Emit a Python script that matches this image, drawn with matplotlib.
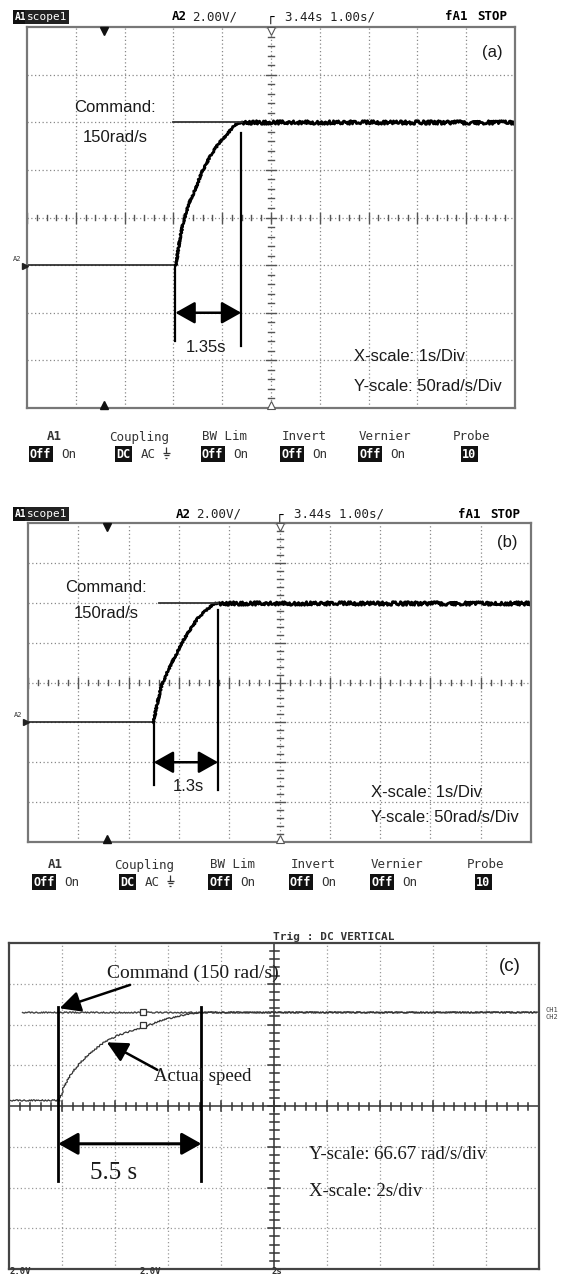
import numpy as np
import matplotlib
matplotlib.use("Agg")
import matplotlib.pyplot as plt
from matplotlib import font_manager

W, H = 567, 1277

# (a) speed step, 1 s/div, 50 rad/s/div
a_time = [0, 3.05, 3.13, 3.20, 3.30, 3.44, 3.58, 3.75, 3.92, 4.09, 4.26, 4.40, 10]
a_speed = [0, 0, 27, 44, 62, 79, 97, 114, 127, 137, 147, 150, 150]
a_cmd_time = [3.0, 4.40]
a_marks = [3.04, 4.39]

# (b)
b_time = [0, 2.49, 2.57, 2.65, 2.79, 2.92, 3.05, 3.22, 3.38, 3.55, 3.71, 3.80, 10]
b_speed = [0, 0, 24, 45, 66, 82, 99, 116, 131, 141, 149, 150, 150]
b_cmd_time = [2.60, 3.78]
b_marks = [2.50, 3.78]

# (c) 2 s/div
c_time = [0.05, 1.92, 1.92, 1.99, 2.05, 2.18, 2.37, 2.68, 3.06, 3.56, 4.06,
          4.69, 5.20, 5.70, 6.33, 6.83, 7.21, 19.9]
c_speed = [0, 0, 6, 10, 21, 32, 47, 64, 81, 98, 110, 120, 127, 136, 143, 148, 150, 150]
c_cmd_time = [0.48, 20]
c_marks = [1.86, 7.26]

command = 150

menu_labels = ["A1", "Coupling", "BW Lim", "Invert", "Vernier", "Probe"]
menu_on = ["Off", "DC", "Off", "Off", "Off", "10"]
menu_off = ["On", "AC", "On", "On", "On", ""]

names = {f.name for f in font_manager.fontManager.ttflist}
narrow = "Liberation Sans Narrow" in names
SANS = "Liberation Sans Narrow" if narrow else "Liberation Sans"
FS = 14.5 if narrow else 12
SERIF = "Liberation Serif"
MONO = ["DejaVu Sans Mono", "DejaVu Sans"]

fig = plt.figure(figsize=(W / 100, H / 100), dpi=100)


def box(l, t, r, b):
    return [l / W, 1 - b / H, (r - l) / W, (b - t) / H]


def scope(ax, px, hp=True):
    l, t, r, b = px
    wpx, hpx = r - l, b - t
    ax.set_xticks([])
    ax.set_yticks([])
    for s in ax.spines.values():
        s.set_color("#777" if hp else "#444")
        s.set_linewidth(1.6)
    gkw = dict(transform=ax.transAxes, color="#888" if hp else "#999",
               lw=0.9, ls=(0, (1, 2)), zorder=1)
    for i in range(1, 10):
        if i != 5:
            ax.plot([i / 10] * 2, [0, 1], **gkw)
    for j in range(1, 8):
        if j != 4:
            ax.plot([0, 1], [j / 8] * 2, **gkw)
    ckw = dict(transform=ax.transAxes, zorder=1)
    if hp:
        ax.plot([0.5, 0.5], [0, 1], color="#888", lw=0.9, ls=(0, (1, 2)), **ckw)
        ax.plot([0, 1], [0.5, 0.5], color="#888", lw=0.9, ls=(0, (1, 2)), **ckw)
        col, lw = "#555", 1.0
    else:
        ax.plot([0.5, 0.5], [0, 1], color="#333", lw=1.1, **ckw)
        ax.plot([0, 1], [0.5, 0.5], color="#333", lw=1.1, **ckw)
        col, lw = "#333", 1.1
    for k in range(51):
        L = (5 if k % 5 == 0 else 2.5) if hp else (5 if k % 5 == 0 else 3.5)
        x = k / 50
        ax.plot([x, x], [0.5 - L / hpx, 0.5 + L / hpx], color=col, lw=lw, **ckw)
    for k in range(41):
        L = (5 if k % 5 == 0 else 3) if hp else (6 if k % 5 == 0 else 4.5)
        y = k / 40
        ax.plot([0.5 - L / wpx, 0.5 + L / wpx], [y, y], color=col, lw=lw, **ckw)


def noisy(line, scale, length=1.5):
    line.set_sketch_params(scale=scale, length=length, randomness=3)


arrow2 = dict(arrowstyle="<|-|>,head_length=0.8,head_width=0.45",
              mutation_scale=15, lw=1.8, color="k", shrinkA=0, shrinkB=0)

# ---------------- (a)
pa = (27, 27, 515, 408)
ax = fig.add_axes(box(*pa))
ax.set_xlim(0, 10)
ax.set_ylim(-150, 250)
scope(ax, pa)
ax.plot(a_time[:2], a_speed[:2], color="#222", lw=1.2)
ln, = ax.plot(a_time[1:-1], a_speed[1:-1], color="k", lw=2.0)
noisy(ln, 0.8)
ln, = ax.plot(a_time[-2:], a_speed[-2:], color="k", lw=2.0)
noisy(ln, 1.8)
ax.plot(a_cmd_time, [command] * 2, color="#333", lw=1.3)
ax.plot([a_marks[0]] * 2, [0, -80], color="k", lw=1.6)
ax.plot([a_marks[1]] * 2, [139, -85], color="k", lw=1.6)
ax.annotate("", xy=(a_marks[1], -50), xytext=(a_marks[0], -50), arrowprops=arrow2)
tkw = dict(family=SANS, fontsize=FS, color="#1a1a1a", va="center")
ax.text(0.96, 166, "Command:", **tkw)
ax.text(1.15, 134, "150rad/s", **tkw)
ax.text(np.mean(a_marks) - 0.05, -87, "1.35s", ha="center", **tkw)
ax.text(9.53, 223, "(a)", ha="center", **tkw)
ax.text(6.70, -96, "X-scale: 1s/Div", **tkw)
ax.text(6.70, -127, "Y-scale: 50rad/s/Div", **tkw)

# ---------------- (b)
pb = (28, 523, 531, 842)
ax = fig.add_axes(box(*pb))
ax.set_xlim(0, 10)
ax.set_ylim(-150, 250)
scope(ax, pb)
ax.plot(b_time[:2], b_speed[:2], color="#222", lw=1.2)
ln, = ax.plot(b_time[1:-1], b_speed[1:-1], color="k", lw=2.0)
noisy(ln, 0.8)
ln, = ax.plot(b_time[-2:], b_speed[-2:], color="k", lw=2.0)
noisy(ln, 1.8)
ax.plot(b_cmd_time, [command] * 2, color="#333", lw=1.3)
ax.plot([b_marks[0]] * 2, [0, -79], color="k", lw=1.6)
ax.plot([b_marks[1]] * 2, [141, -85], color="k", lw=1.6)
ax.annotate("", xy=(b_marks[1], -50), xytext=(b_marks[0], -50), arrowprops=arrow2)
ax.text(0.73, 169, "Command:", **tkw)
ax.text(0.91, 136, "150rad/s", **tkw)
ax.text(3.19, -81, "1.3s", ha="center", **tkw)
ax.text(9.52, 225, "(b)", ha="center", **tkw)
ax.text(6.82, -88, "X-scale: 1s/Div", **tkw)
ax.text(6.82, -119, "Y-scale: 50rad/s/Div", **tkw)

# ---------------- (c)
pc = (9, 943, 539, 1269)
ax = fig.add_axes(box(*pc))
ax.set_xlim(0, 20)
ax.set_ylim(-287.5, 268.4)
scope(ax, pc, hp=False)
ln, = ax.plot(c_cmd_time, [command] * 2, color="#444", lw=1.0)
noisy(ln, 0.6, 3)
ln, = ax.plot(c_time, c_speed, color="#333", lw=0.9)
noisy(ln, 0.7, 3)
ax.plot([c_marks[0]] * 2, [160, -138], color="k", lw=2.0)
ax.plot([c_marks[1]] * 2, [160, -138], color="k", lw=2.0)
ax.annotate("", xy=(c_marks[1], -74), xytext=(c_marks[0], -74),
            arrowprops=dict(arrow2, lw=2.2))
ax.plot([5.07, 5.07], [150, 128], ls="none", marker="s", ms=5, mfc="white",
        mec="#333", mew=0.9)
skw = dict(family=SERIF, color="#1a1a1a", va="center")
ax.text(3.69, 217, "Command (150 rad/s)", fontsize=14, **skw)
ax.annotate("", xy=(1.91, 157), xytext=(4.57, 197),
            arrowprops=dict(arrowstyle="-|>,head_length=0.9,head_width=0.45",
                            mutation_scale=14, lw=1.8, color="k", shrinkA=0, shrinkB=0))
ax.text(5.46, 41, "Actual speed", fontsize=13.5, **skw)
ax.annotate("", xy=(3.69, 99), xytext=(5.60, 52),
            arrowprops=dict(arrowstyle="-|>,head_length=0.9,head_width=0.45",
                            mutation_scale=14, lw=1.8, color="k", shrinkA=0, shrinkB=0))
ax.text(np.mean(c_marks) - 0.6, -124, "5.5 s", fontsize=18, ha="center", **skw)
ax.text(11.32, -93, "Y-scale: 66.67 rad/s/div", fontsize=13.5, **skw)
ax.text(11.32, -155, "X-scale: 2s/div", fontsize=13.5, **skw)
ax.text(18.9, 228, "(c)", family="Liberation Sans", fontsize=13.5, ha="center",
        va="center", color="#1a1a1a")

# ---------------- scope headers and menus (pixel coordinates)
ov = fig.add_axes([0, 0, 1, 1])
ov.set_xlim(0, W)
ov.set_ylim(H, 0)
ov.axis("off")
ov.patch.set_alpha(0)

inv = dict(facecolor="#111", edgecolor="none", pad=1.2)


def header(y, xs):
    ov.text(xs[0], y, "A1", family=MONO, fontsize=7, weight="bold", color="white",
            va="center", bbox=inv)
    ov.text(xs[0] + 12, y, "scope1", family=MONO, fontsize=8, color="white",
            va="center", bbox=dict(inv, facecolor="#222"))
    ov.text(xs[1], y, "A2", family=MONO, fontsize=9, weight="bold", va="center")
    ov.text(xs[1] + 20, y, "2.00V/", family=MONO, fontsize=9, va="center", color="#222")
    ov.text(xs[2] - 4, y + 1, "\u250C", family=MONO, fontsize=9, va="center")
    ov.text(xs[2] + 14, y, "3.44s 1.00s/", family=MONO, fontsize=9, va="center",
            color="#222")
    ov.text(xs[3], y, "fA1", family=MONO, fontsize=9, weight="bold", va="center")
    ov.text(xs[3] + 32, y, "STOP", family=MONO, fontsize=9, weight="bold", va="center")


header(17, (15, 172, 271, 445))
header(514, (15, 176, 280, 458))


def ground(x, y):
    # earth symbol (no installed font has the glyph)
    kw = dict(color="#333", lw=0.9, solid_capstyle="butt")
    ov.plot([x, x], [y - 6, y], **kw)
    ov.plot([x - 3.5, x + 3.5], [y, y], **kw)
    ov.plot([x - 2.3, x + 2.3], [y + 2.3, y + 2.3], **kw)
    ov.plot([x - 1, x + 1], [y + 4.6, y + 4.6], **kw)


def menu(y, label_x, btn_x):
    for lab, a, b, xl, xb in zip(menu_labels, menu_on, menu_off, label_x, btn_x):
        ov.text(xl, y, lab, family=MONO, fontsize=9, ha="center", va="center",
                color="#333", weight="bold" if lab == "A1" else "normal")
        ov.text(xb, y + 17, a, family=MONO, fontsize=8.5, weight="bold",
                color="white", va="center", bbox=dict(inv, pad=1.0))
        if b:
            x2 = xb + 7.2 * len(a) + 10
            ov.text(x2, y + 17, b, family=MONO, fontsize=9, va="center", color="#333")
            if b == "AC":
                ground(x2 + 26, y + 16)


menu(437, (54, 139, 225, 304, 385, 472), (30, 116, 202, 281, 359, 462))
menu(865, (55, 144, 232, 313, 397, 486), (33, 120, 209, 290, 371, 476))

# trigger / ground markers of the two HP screens
for (l, t, r, b), base_y, mx in [(pa, 266, 104), (pb, 722, 107)]:
    ov.plot(mx, t + 4, marker="v", ms=6, color="#111")
    ov.plot(mx, b - 3, marker="^", ms=6, color="#111")
    cx = (l + r) / 2
    ov.plot(cx, t + 4, marker="v", ms=6, mfc="white", mec="#555", mew=0.8)
    ov.plot(cx, b - 3, marker="^", ms=6, mfc="white", mec="#555", mew=0.8)
    ov.text(l - 10, base_y - 7, "A2", family=MONO, fontsize=5, va="center",
            ha="center", color="#333")
    ov.plot(l - 2, base_y, marker=">", ms=4, color="#222")

# (c) screen labels
ov.text(273, 937, "Trig : DC VERTICAL", family=MONO, fontsize=8, weight="bold",
        va="center", color="#333")
ov.text(546, 1010, "CH1", family=MONO, fontsize=5, va="center", color="#444")
ov.text(546, 1017, "CH2", family=MONO, fontsize=5, va="center", color="#444")
for x, s in [(10, "2.0V"), (140, "2.0V"), (272, "2s")]:
    ov.text(x, 1276.5, s, family=MONO, fontsize=6.5, weight="bold", va="bottom",
            color="#333")

fig.savefig("out.png", dpi=100)
